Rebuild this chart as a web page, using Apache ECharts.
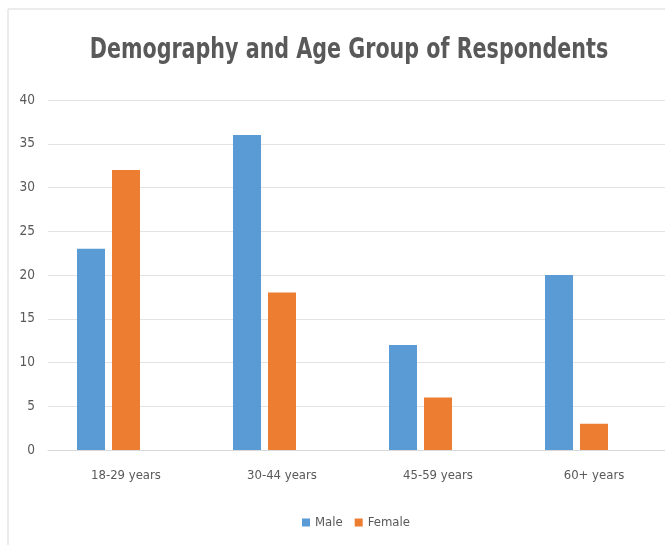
<!DOCTYPE html>
<html>
<head>
<meta charset="utf-8">
<script src="https://cdn.jsdelivr.net/npm/echarts@6/dist/echarts.min.js"></script>
<style>
  html, body { margin: 0; padding: 0; background: #fff; overflow: hidden; }
  /* 比窗口略宽，让右侧网格线延伸出画面 */
  #chart { width: 680px; height: 545px; }
</style>
</head>
<body>
<div id="chart"></div>
<script>
// 年龄组
const categories = ['18-29 years', '30-44 years', '45-59 years', '60+ years'];
// 男性
const maleData = [23, 36, 12, 20];
// 女性
const femaleData = [32, 18, 6, 3];
// 空的第三个系列（原图里占位）
const emptyData = [null, null, null, null];
const yTicks = { min: 0, max: 40, interval: 5 };

const FONT = "'DejaVu Sans Condensed', 'Liberation Sans', sans-serif";

const myChart = echarts.init(document.getElementById('chart'));

const option = {
  animation: false,
  graphic: [
    {
      // 外框（左边和上边）
      type: 'rect',
      shape: { x: 8, y: 9, width: 700, height: 600 },
      style: { fill: 'none', stroke: '#d9d9d9', lineWidth: 1 },
      silent: true,
    },
    {
      // 标题，横向压缩模拟窄字体
      type: 'text',
      x: 349,
      y: 51,
      scaleX: 0.82,
      style: {
        text: 'Demography and Age Group of Respondents',
        font: "bold 28px " + FONT,
        fill: '#595959',
        align: 'center',
        verticalAlign: 'middle',
      },
      silent: true,
    },
  ],
  legend: {
    data: ['Male', 'Female'],
    left: 297,
    top: 511,
    itemWidth: 8,
    itemHeight: 8,
    itemGap: 12,
    icon: 'rect',
    textStyle: { fontFamily: FONT, fontSize: 13, color: '#595959' },
  },
  grid: {
    left: 48,
    top: 100,
    width: 624,
    height: 350,
    containLabel: false,
  },
  xAxis: {
    type: 'category',
    data: categories,
    axisLine: { lineStyle: { color: '#d9d9d9' } },
    axisTick: { show: false },
    axisLabel: {
      fontFamily: FONT,
      fontSize: 13,
      color: '#595959',
      margin: 19,
    },
  },
  yAxis: {
    type: 'value',
    min: yTicks.min,
    max: yTicks.max,
    interval: yTicks.interval,
    axisLine: { show: false },
    axisTick: { show: false },
    axisLabel: {
      fontFamily: FONT,
      fontSize: 13.5,
      color: '#595959',
      margin: 13,
    },
    splitLine: { lineStyle: { color: '#e3e3e3' } },
  },
  series: [
    {
      name: 'Male',
      type: 'bar',
      data: maleData,
      barWidth: 28,
      barGap: '25%',
      itemStyle: { color: '#5b9bd5' },
    },
    {
      name: 'Female',
      type: 'bar',
      data: femaleData,
      barWidth: 28,
      barGap: '25%',
      itemStyle: { color: '#ed7d31' },
    },
    {
      name: 'blank',
      type: 'bar',
      data: emptyData,
      barWidth: 28,
      barGap: '25%',
      itemStyle: { color: '#a5a5a5' },
    },
  ],
};

myChart.setOption(option);
</script>
</body>
</html>
